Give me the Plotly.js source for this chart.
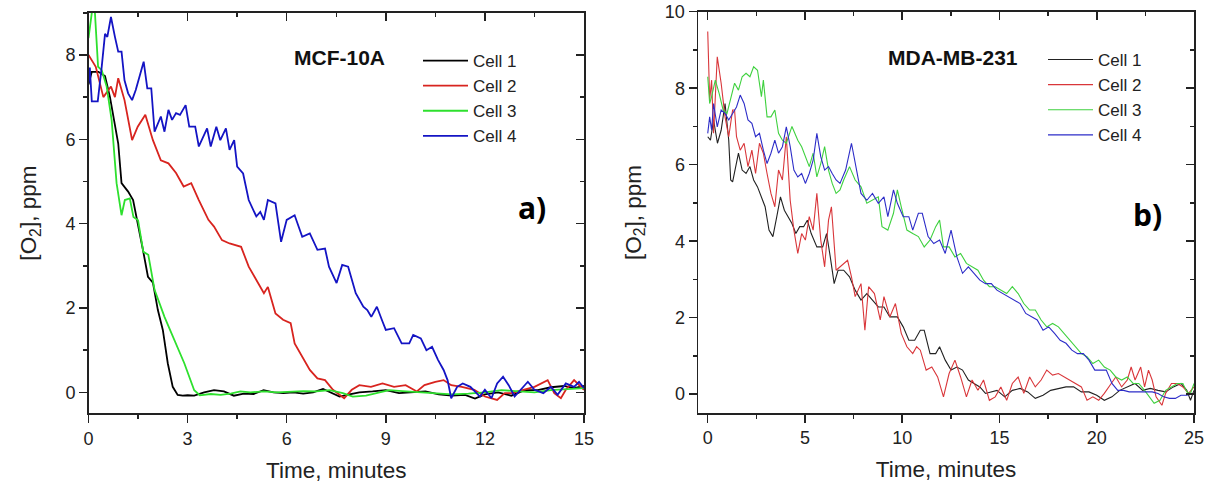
<!DOCTYPE html>
<html>
<head>
<meta charset="utf-8">
<script src="https://cdn.plot.ly/plotly-3.0.1.min.js"></script>
<style>html,body{margin:0;padding:0;background:#fff;}#chart{width:1212px;height:487px;}</style>
</head>
<body>
<div id="chart"></div>
<script>
const seriesNames = ["Cell 1", "Cell 2", "Cell 3", "Cell 4"];
const panelTitles = ["MCF-10A", "MDA-MB-231"];
const panelLetters = ["a)", "b)"];

// ---------- Panel a) MCF-10A ----------
const tA1 = [0,0.1,0.3,0.5,0.65,0.8,0.9,1.0,1.2,1.35,1.5,1.65,1.8,1.95,2.1,2.25,2.4,2.55,2.7,2.85,3.0,3.2,3.5,3.8,4.1,4.4,4.7,5.0,5.3,5.6,5.9,6.2,6.5,6.8,7.1,7.4,7.6,7.9,8.2,8.6,9.0,9.4,9.8,10.2,10.6,11.0,11.4,11.7,12.0,12.4,12.8,13.2,13.6,14.0,14.4,14.7,15];
const oA1 = [7.3,7.6,7.6,7.5,7.0,6.3,5.9,4.96,4.76,4.56,4.0,3.37,2.74,2.6,1.95,1.48,0.69,0.13,-0.06,-0.08,-0.07,-0.08,0.0,0.05,0.02,-0.08,-0.03,-0.04,0.05,0.0,-0.02,0.0,-0.03,0.0,0.08,-0.02,-0.1,-0.05,0.0,0.02,0.05,-0.02,0.0,0.02,-0.05,-0.08,-0.06,-0.15,-0.05,0.0,-0.08,0.05,0.05,0.12,0.15,0.1,0.15];

const tA2 = [0,0.22,0.45,0.68,0.8,0.9,1.09,1.32,1.49,1.72,1.95,2.19,2.42,2.65,2.88,3.11,3.34,3.63,3.8,4.04,4.27,4.62,4.85,5.08,5.31,5.43,5.66,5.89,6.12,6.24,6.47,6.7,6.93,7.16,7.4,7.74,7.97,8.2,8.55,8.9,9.25,9.6,9.94,10.17,10.5,10.75,10.98,11.3,11.68,12.0,12.37,12.6,12.8,13.2,13.5,13.9,14.1,14.3,14.45,14.7,15];
const oA2 = [8.0,7.72,7.0,7.25,7.0,7.45,6.93,5.98,6.3,6.58,5.98,5.5,5.43,5.2,4.88,4.96,4.56,4.09,3.93,3.61,3.53,3.45,2.98,2.66,2.35,2.5,1.87,1.72,1.64,1.16,0.85,0.53,0.33,0.29,0.06,-0.14,0.06,0.17,0.13,0.21,0.13,0.17,0.02,0.17,0.25,0.29,0.17,0.13,0.06,-0.1,-0.18,-0.02,-0.02,0.06,0.13,0.29,-0.02,-0.14,0.06,0.29,0.06];

const tA3 = [0,0.1,0.15,0.22,0.29,0.4,0.55,0.7,0.85,1.0,1.1,1.25,1.36,1.5,1.66,1.81,2.0,2.3,2.6,2.9,3.2,3.37,3.7,4.0,4.3,4.6,4.9,5.3,5.7,6.1,6.5,6.9,7.3,7.7,8.0,8.4,8.8,9.1,9.5,10.0,10.5,11.0,11.5,12.0,12.5,13.0,13.5,14.0,14.5,15];
const oA3 = [8.4,9.0,9.6,8.6,7.72,7.64,7.25,6.46,4.96,4.2,4.56,4.6,4.16,4.08,3.33,3.26,2.43,1.79,1.24,0.69,0.05,-0.07,-0.04,-0.06,-0.03,0.02,0.0,0.02,0.0,0.02,0.03,0.02,0.05,-0.02,-0.1,-0.08,0.0,0.05,0.03,0.0,-0.02,-0.05,-0.03,0.0,0.05,0.02,0.0,0.05,0.08,0.1];

const tA4 = [0,0.04,0.1,0.28,0.4,0.5,0.57,0.68,0.8,0.9,1.0,1.09,1.2,1.32,1.43,1.55,1.67,1.78,1.9,2.0,2.19,2.3,2.42,2.53,2.65,2.77,2.94,3.05,3.23,3.34,3.47,3.59,3.7,3.87,3.99,4.16,4.27,4.41,4.5,4.68,4.85,5.08,5.2,5.31,5.43,5.66,5.83,6.0,6.24,6.47,6.7,6.93,7.16,7.28,7.51,7.68,7.86,8.09,8.32,8.44,8.56,8.73,8.9,9.0,9.25,9.48,9.71,9.83,10.06,10.23,10.4,10.58,10.75,10.87,10.98,11.16,11.33,11.56,11.85,12.0,12.2,12.37,12.55,12.72,12.9,13.07,13.3,13.5,13.77,14.0,14.2,14.45,14.7,14.85,15];
const oA4 = [7.33,7.7,6.9,6.9,7.72,8.5,8.43,8.9,8.43,8.08,8.08,7.4,7.09,6.93,7.17,7.49,7.84,7.21,7.21,6.18,6.54,6.18,6.7,6.46,6.62,6.58,6.81,6.3,6.3,5.83,6.06,6.26,5.83,6.3,5.98,6.26,5.75,5.98,5.35,5.19,4.56,4.17,4.28,4.09,4.56,4.48,3.57,4.09,4.2,3.69,3.77,3.38,3.41,2.98,2.59,3.02,2.98,2.35,2.03,1.95,1.79,2.03,1.68,1.48,1.52,1.16,1.16,1.36,1.28,1.0,1.08,0.77,0.53,0.29,-0.14,0.13,0.21,0.13,-0.1,0.06,-0.14,0.21,0.37,0.17,-0.1,0.06,0.25,0.06,-0.02,0.13,-0.06,0.21,0.13,0.25,0.1];

// ---------- Panel b) MDA-MB-231 ----------
const tB1 = [0,0.14,0.3,0.5,0.69,0.89,1.08,1.18,1.28,1.48,1.58,1.77,1.97,2.17,2.36,2.56,2.76,2.95,3.15,3.35,3.55,3.74,3.94,4.14,4.33,4.53,4.73,4.93,5.12,5.32,5.61,5.91,6.11,6.3,6.5,6.7,6.99,7.29,7.58,7.88,8.18,8.47,8.77,9.06,9.36,9.75,10.05,10.34,10.64,10.93,11.13,11.43,11.72,11.92,12.21,12.51,12.81,13.1,13.4,13.69,13.99,14.28,14.58,14.87,15.27,15.66,16.06,16.45,16.84,17.24,17.63,18.03,18.42,18.81,19.21,19.6,20.0,20.39,20.78,21.18,21.57,21.97,22.36,22.75,23.15,23.54,23.94,24.33,24.63,24.82,25];
const oB1 = [6.73,6.64,7.17,6.56,6.9,7.6,6.64,5.6,5.55,6.03,6.3,5.86,5.77,5.95,5.6,5.42,5.16,4.9,4.29,4.12,4.64,5.16,4.81,4.64,4.46,4.2,4.38,4.38,4.55,4.2,3.85,3.85,4.2,3.59,2.89,3.24,3.24,3.07,2.72,2.46,2.63,2.46,2.28,2.28,2.02,2.02,1.76,1.41,1.41,1.67,1.67,1.06,1.06,1.24,0.89,0.63,0.71,0.63,0.37,0.28,0.19,0.02,0.06,0.1,-0.07,0.1,0.15,0.06,-0.11,-0.03,0.1,0.15,0.19,0.19,0.06,0.06,-0.03,-0.16,-0.07,0.1,0.19,0.28,0.1,0.15,0.1,0.06,0.19,0.28,0.1,-0.16,0.1];

const tB2 = [0,0.1,0.2,0.3,0.49,0.69,0.89,1.08,1.28,1.38,1.48,1.67,1.87,2.07,2.27,2.46,2.66,2.86,3.05,3.25,3.45,3.64,3.84,4.04,4.24,4.43,4.63,4.83,5.02,5.22,5.42,5.61,5.81,6.01,6.21,6.36,6.6,6.8,6.99,7.19,7.39,7.58,7.88,8.08,8.27,8.57,8.87,9.06,9.36,9.65,9.95,10.24,10.54,10.74,10.93,11.23,11.52,11.82,12.12,12.41,12.71,13.0,13.3,13.59,13.89,14.18,14.48,14.78,15.07,15.37,15.66,15.96,16.25,16.55,16.84,17.14,17.43,17.73,18.03,18.32,18.62,18.91,19.21,19.5,19.8,20.1,20.39,20.69,20.98,21.28,21.57,21.77,21.97,22.26,22.46,22.66,22.85,23.05,23.35,23.54,23.84,24.14,24.43,24.72,25];
const oB2 = [9.48,7.69,8.21,6.82,8.82,8.13,7.25,6.73,7.43,7.43,6.73,6.38,6.56,5.95,6.38,5.77,6.56,6.3,5.77,5.25,4.9,5.86,5.6,6.73,5.07,4.29,3.68,4.2,4.03,4.64,4.29,5.25,4.03,3.33,4.55,4.9,3.24,3.33,3.42,3.5,3.07,2.55,2.89,1.67,2.81,2.63,1.94,2.55,2.02,2.37,1.59,1.24,1.06,1.24,1.15,0.63,0.71,0.45,-0.07,0.54,0.89,0.45,-0.07,0.37,0.1,0.37,-0.16,-0.07,0.19,-0.16,0.28,0.45,0.02,0.45,0.19,0.37,0.63,0.5,0.54,0.45,0.37,0.28,0.19,-0.16,-0.07,-0.16,0.02,0.24,0.45,0.19,0.37,0.71,0.37,0.71,0.19,0.63,0.37,-0.07,-0.29,0.02,0.28,0.28,0.19,0.02,0.19];

const tB3 = [0,0.1,0.2,0.39,0.59,0.79,0.99,1.18,1.38,1.58,1.77,1.97,2.17,2.36,2.56,2.76,2.86,3.05,3.25,3.45,3.64,3.84,4.04,4.33,4.63,4.83,5.02,5.22,5.42,5.61,5.81,6.01,6.21,6.4,6.6,6.8,6.99,7.29,7.58,7.88,8.18,8.47,8.77,8.96,9.26,9.55,9.75,9.95,10.24,10.54,10.83,11.13,11.43,11.72,11.92,12.12,12.41,12.71,13.0,13.3,13.59,13.89,14.18,14.48,14.78,15.07,15.37,15.66,15.96,16.25,16.55,16.84,17.14,17.43,17.73,18.03,18.32,18.62,18.91,19.21,19.5,19.8,20.1,20.39,20.69,20.98,21.28,21.57,21.87,22.16,22.46,22.75,22.95,23.25,23.54,23.84,24.14,24.43,24.63,24.82,25];
const oB3 = [8.3,7.6,7.78,8.21,7.86,7.43,7.34,7.69,8.13,7.95,8.3,8.39,8.3,8.56,8.47,7.78,8.21,7.25,7.25,7.43,6.82,6.64,6.56,7.0,6.64,6.47,6.21,5.95,6.3,5.68,6.03,6.47,5.86,5.51,5.25,5.34,5.6,5.95,5.6,5.42,4.99,5.07,5.16,4.38,4.29,4.73,5.34,4.9,4.29,4.2,4.12,3.85,4.03,4.38,4.55,3.85,3.85,3.59,3.68,3.42,3.33,3.24,2.98,2.81,2.81,2.72,2.63,2.81,2.63,2.37,2.2,2.2,1.94,1.76,1.85,1.76,1.59,1.41,1.24,1.06,0.98,0.8,0.89,0.71,0.63,0.45,0.37,0.45,0.28,0.28,0.1,-0.11,-0.24,-0.16,0.1,0.19,0.28,0.28,0.06,0.02,0.28];

const tB4 = [0,0.1,0.2,0.3,0.49,0.69,0.89,1.08,1.28,1.48,1.67,1.87,2.07,2.27,2.46,2.66,2.86,3.05,3.25,3.45,3.64,3.84,4.04,4.24,4.43,4.63,4.83,5.02,5.22,5.42,5.61,5.81,6.01,6.21,6.4,6.6,6.8,7.09,7.39,7.68,7.88,8.18,8.47,8.77,9.06,9.26,9.55,9.75,10.05,10.34,10.54,10.83,11.03,11.33,11.62,11.92,12.21,12.51,12.81,13.1,13.4,13.69,13.99,14.28,14.58,14.87,15.17,15.47,15.76,16.06,16.35,16.65,16.94,17.24,17.53,17.83,18.12,18.42,18.72,19.01,19.31,19.6,19.9,20.19,20.49,20.78,21.08,21.38,21.67,21.97,22.26,22.56,22.85,23.15,23.44,23.74,24.04,24.33,24.63,25];
const oB4 = [6.82,7.25,6.9,7.6,6.99,7.43,7.34,7.17,7.34,7.51,7.82,7.6,7.17,7.08,6.73,6.82,6.38,6.03,6.3,6.64,6.3,6.47,6.99,6.47,5.86,5.68,5.77,5.51,5.77,6.12,6.82,6.21,5.86,5.95,5.77,5.6,5.51,5.86,6.56,5.77,5.25,5.07,5.25,4.99,5.16,4.64,5.34,4.99,4.64,4.64,4.29,4.73,4.73,4.12,3.94,4.03,3.68,4.29,3.59,3.16,3.33,3.16,2.98,2.89,2.89,2.72,2.63,2.55,2.46,2.37,2.11,2.02,1.94,1.67,1.76,1.59,1.41,1.33,1.15,1.06,1.06,0.89,0.63,0.63,0.63,0.28,0.1,0.1,0.06,0.06,0.06,0.06,0.06,0.02,-0.07,-0.11,-0.11,-0.03,-0.03,0.02];

const colorsA = ["#000000", "#d8241f", "#2ee02e", "#1414c4"];
const colorsB = ["#222222", "#d9363a", "#3fd13f", "#2d2dc8"];
const dataA = [[tA1,oA1],[tA2,oA2],[tA3,oA3],[tA4,oA4]];
const dataB = [[tB1,oB1],[tB2,oB2],[tB3,oB3],[tB4,oB4]];

const traces = [];
dataA.forEach((d, i) => traces.push({
  x: d[0], y: d[1], type: "scatter", mode: "lines", name: seriesNames[i],
  line: {color: colorsA[i], width: 1.8}, xaxis: "x", yaxis: "y", legend: "legend"
}));
dataB.forEach((d, i) => traces.push({
  x: d[0], y: d[1], type: "scatter", mode: "lines", name: seriesNames[i],
  line: {color: colorsB[i], width: 1.1}, xaxis: "x2", yaxis: "y2", legend: "legend2"
}));
// invisible carriers so that the mirrored (top/right) frame axes are drawn
[["x3","y3"],["x4","y4"]].forEach(ax => traces.push({
  x: [null], y: [null], type: "scatter", mode: "lines", xaxis: ax[0], yaxis: ax[1],
  showlegend: false, hoverinfo: "skip"
}));

const FONT = "Liberation Sans, Arial, sans-serif";
const tickFont = {family: FONT, size: 18, color: "#222"};
const titleFont = {family: FONT, size: 22.5, color: "#222"};
const AX = "#222";

function mainX(dom, range, dtick, anchor) {
  return {domain: dom, range: range, anchor: anchor, dtick: dtick, tick0: 0,
    ticks: "outside", ticklen: 8, tickwidth: 1.5, tickcolor: AX,
    showline: true, linecolor: AX, linewidth: 1.5, showgrid: false, zeroline: false,
    tickfont: tickFont, title: {text: "Time, minutes", font: titleFont, standoff: 14},
    minor: {dtick: dtick / 2, ticks: "outside", ticklen: 4, tickwidth: 1.5, tickcolor: AX, showgrid: false},
    fixedrange: true};
}
function mainY(dom, range, anchor, standoff) {
  return {domain: dom, range: range, anchor: anchor, dtick: 2, tick0: 0,
    ticks: "outside", ticklen: 8, tickwidth: 1.5, tickcolor: AX,
    showline: true, linecolor: AX, linewidth: 1.5, showgrid: false, zeroline: false,
    tickfont: tickFont, title: {text: "[O<sub>2</sub>], ppm", font: titleFont, standoff: standoff},
    minor: {dtick: 1, ticks: "outside", ticklen: 4, tickwidth: 1.5, tickcolor: AX, showgrid: false},
    fixedrange: true};
}
function mirrorX(over, range, dtick, anchor) {
  return {overlaying: over, side: "top", anchor: anchor, range: range, dtick: dtick, tick0: 0,
    ticks: "inside", ticklen: 8, tickwidth: 1.5, tickcolor: AX,
    showline: true, linecolor: AX, linewidth: 1.5, showgrid: false, zeroline: false,
    showticklabels: false,
    minor: {dtick: dtick / 2, ticks: "inside", ticklen: 4, tickwidth: 1.5, tickcolor: AX, showgrid: false},
    fixedrange: true};
}
function mirrorY(over, range, anchor) {
  return {overlaying: over, side: "right", anchor: anchor, range: range, dtick: 2, tick0: 0,
    ticks: "inside", ticklen: 8, tickwidth: 1.5, tickcolor: AX,
    showline: true, linecolor: AX, linewidth: 1.5, showgrid: false, zeroline: false,
    showticklabels: false,
    minor: {dtick: 1, ticks: "inside", ticklen: 4, tickwidth: 1.5, tickcolor: AX, showgrid: false},
    fixedrange: true};
}

const W = 1212, H = 487;
const xDomA = [88.5 / W, 584 / W], yDomA = [1 - 413.4 / H, 1 - 12.8 / H];
const xDomB = [698 / W, 1194 / W], yDomB = [1 - 413.3 / H, 1 - 11.7 / H];
const xRangeA = [0, 15], yRangeA = [-0.5, 9];
const xRangeB = [-0.5, 25], yRangeB = [-0.5, 10];

const legendCommon = {font: {family: FONT, size: 17, color: "#222"}, bgcolor: "rgba(0,0,0,0)",
  borderwidth: 0, itemwidth: 45, tracegroupgap: 0, xanchor: "left", yanchor: "top", itemclick: false};

const layout = {
  width: W, height: H,
  margin: {l: 0, r: 0, t: 0, b: 0},
  paper_bgcolor: "#fff", plot_bgcolor: "#fff",
  showlegend: true,
  xaxis: mainX(xDomA, xRangeA, 3, "y"),
  yaxis: mainY(yDomA, yRangeA, "x", 22),
  xaxis2: mainX(xDomB, xRangeB, 5, "y2"),
  yaxis2: mainY(yDomB, yRangeB, "x2", 17),
  xaxis3: mirrorX("x", xRangeA, 3, "y"),
  yaxis3: mirrorY("y", yRangeA, "x"),
  xaxis4: mirrorX("x2", xRangeB, 5, "y2"),
  yaxis4: mirrorY("y2", yRangeB, "x2"),
  legend: Object.assign({x: 418 / W, y: 1 - 43 / H}, legendCommon),
  legend2: Object.assign({x: 1043 / W, y: 1 - 42 / H}, legendCommon),
  annotations: [
    {text: "<b>" + panelTitles[0] + "</b>", xref: "paper", yref: "paper", x: 339 / W, y: 1 - 57 / H,
     showarrow: false, font: {family: FONT, size: 21, color: "#111"}, xanchor: "center", yanchor: "middle"},
    {text: "<b>" + panelLetters[0] + "</b>", xref: "paper", yref: "paper", x: 532 / W, y: 1 - 207 / H,
     showarrow: false, font: {family: "Open Sans, sans-serif", size: 30, color: "#000"}, xanchor: "center", yanchor: "middle"},
    {text: "<b>" + panelTitles[1] + "</b>", xref: "paper", yref: "paper", x: 953 / W, y: 1 - 57 / H,
     showarrow: false, font: {family: FONT, size: 21, color: "#111"}, xanchor: "center", yanchor: "middle"},
    {text: "<b>" + panelLetters[1] + "</b>", xref: "paper", yref: "paper", x: 1147 / W, y: 1 - 215 / H,
     showarrow: false, font: {family: "Open Sans, sans-serif", size: 30, color: "#000"}, xanchor: "center", yanchor: "middle"}
  ]
};

Plotly.newPlot("chart", traces, layout, {displayModeBar: false, staticPlot: true});
</script>
</body>
</html>
